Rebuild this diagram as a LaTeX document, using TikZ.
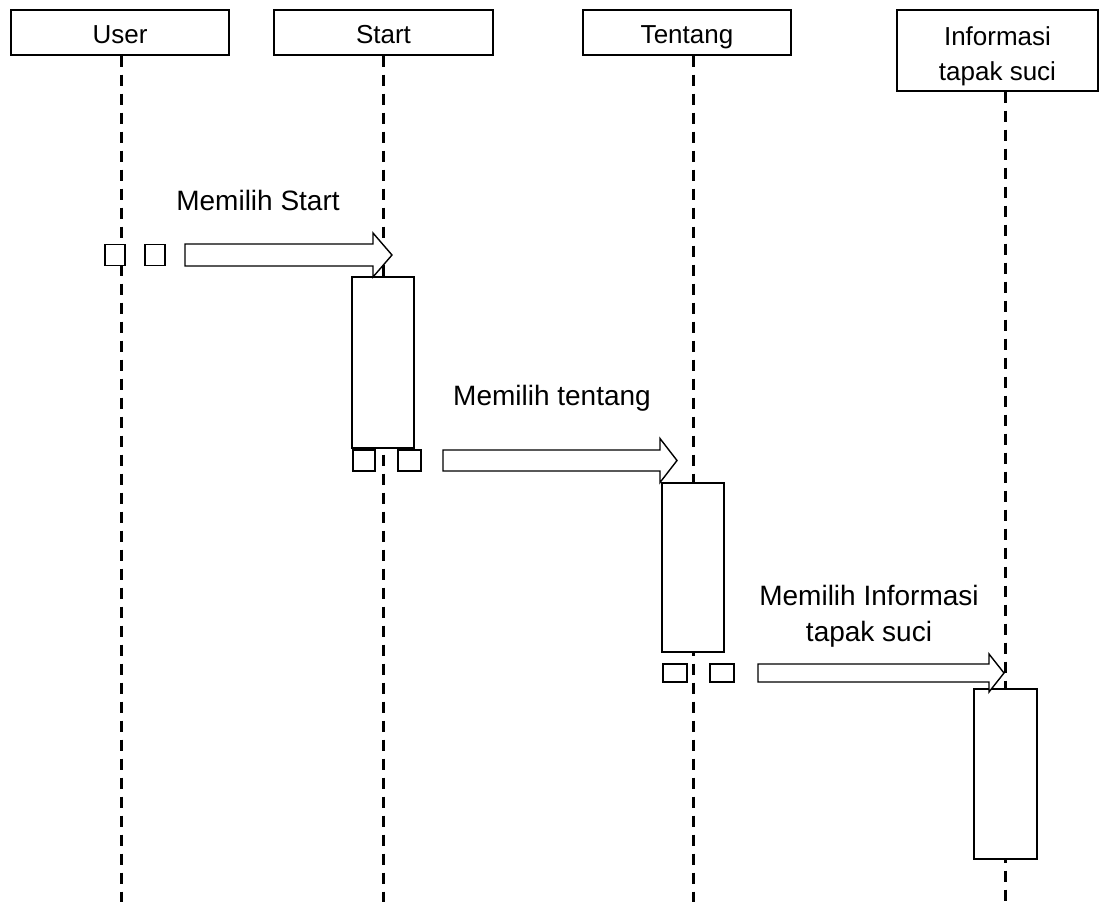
\documentclass[tikz,border=0pt]{standalone}
\usepackage{fontspec}
\setmainfont{Liberation Sans}
\usetikzlibrary{calc}

\tikzset{
  head/.style={draw, line width=1.4pt, fill=white, inner sep=0pt, font=\fontsize{26}{35}\selectfont, align=center},
  headline/.style={head, text height=23pt, text depth=2pt},
  lifeline/.style={line width=3pt, dash pattern=on 11pt off 8pt},
  actbox/.style={draw, line width=1.4pt, fill=white, inner sep=0pt},
  gate/.style={draw, line width=1.4pt, fill=white, inner sep=0pt},
  arrowbox/.style={draw, line width=1.4pt, fill=white, line join=miter},
  msg/.style={font=\fontsize{28}{36}\selectfont, align=center, inner sep=0pt}
}

% block arrow: #1 tail, #2 tip, #3 half shaft, #4 half head, #5 head length
\newcommand\flowarrow[5]{%
  \draw[arrowbox] ($(#1)+(0,-#3)$) -- ($(#2)+(-#5,-#3)$) -- ($(#2)+(-#5,-#4)$) -- (#2)
    -- ($(#2)+(-#5,#4)$) -- ($(#2)+(-#5,#3)$) -- ($(#1)+(0,#3)$) -- cycle;}

\begin{document}
\begin{tikzpicture}[x=1pt,y=-1pt]
\useasboundingbox (0,0) rectangle (1109,902);

% participants
\node[headline, minimum width=218pt, minimum height=45pt] (user) at (120,32.5) {User};
\node[headline, minimum width=219pt, minimum height=45pt] (start) at (383.5,32.5) {Start};
\node[headline, minimum width=208pt, minimum height=45pt] (tentang) at (687,32.5) {Tentang};
\node[head, minimum width=201pt, minimum height=81pt] (info) at (997.5,50.5) {};
\node[head, draw=none, fill=none] (infoLabel) at (997.5,56) {Informasi\\tapak suci};

% lifeline ends
\coordinate (userEnd) at (121,902);
\coordinate (startEnd) at (383,902);
\coordinate (tentangEnd) at (693,902);
\coordinate (infoEnd) at (1005,902);

\draw[lifeline] (user.south -| userEnd) -- (userEnd);
\draw[lifeline] (start.south -| startEnd) -- (startEnd);
\draw[lifeline] (tentang.south -| tentangEnd) -- (tentangEnd);
\draw[lifeline] (info.south -| infoEnd) -- (infoEnd);

% activation bars
\node[actbox, minimum width=62pt, minimum height=171pt] (actStart) at (383,362.5) {};
\node[actbox, minimum width=62pt, minimum height=169pt] (actTentang) at (693,567.5) {};
\node[actbox, minimum width=63pt, minimum height=170pt] (actInfo) at (1005.5,774) {};

% message 1
\node[gate, minimum width=20pt, minimum height=21pt] (g1a) at (115,255) {};
\node[gate, minimum width=20pt, minimum height=21pt] (g1b) at (155,255) {};
\coordinate (m1s) at (185,255);
\coordinate (m1e) at (392,255);
\flowarrow{m1s}{m1e}{11}{22}{19}
\node[msg] (t1) at (258,200) {Memilih Start};

% message 2
\node[gate, minimum width=22pt, minimum height=21pt] (g2a) at (364,460.5) {};
\node[gate, minimum width=23pt, minimum height=21pt] (g2b) at (409.5,460.5) {};
\coordinate (m2s) at (443,460.5);
\coordinate (m2e) at (677,460.5);
\flowarrow{m2s}{m2e}{10.5}{22}{17}
\node[msg] (t2) at (552,398) {Memilih tentang};

% message 3
\node[gate, minimum width=24pt, minimum height=18pt] (g3a) at (675,673) {};
\node[gate, minimum width=24pt, minimum height=18pt] (g3b) at (722,673) {};
\coordinate (m3s) at (758,673);
\coordinate (m3e) at (1004,673);
\flowarrow{m3s}{m3e}{9}{19}{15}
\node[msg] (t3) at (869,616) {Memilih Informasi\\tapak suci};
\end{tikzpicture}
\end{document}
